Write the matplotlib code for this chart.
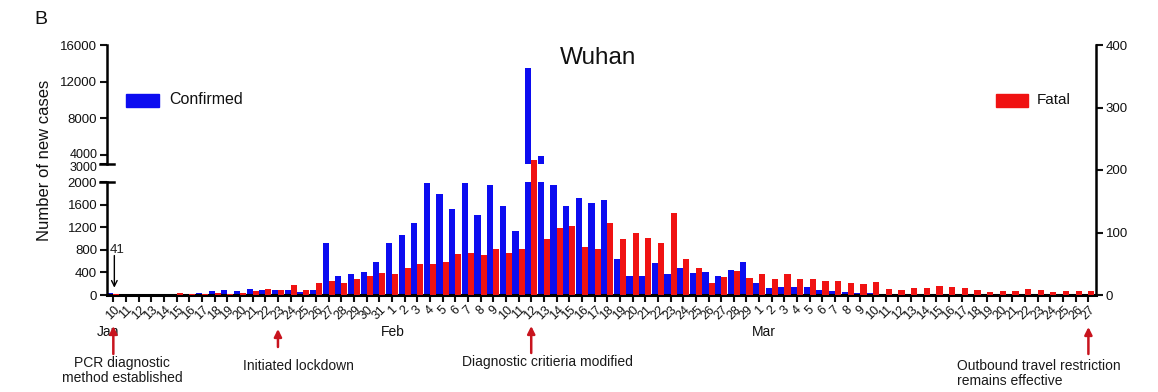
import matplotlib
matplotlib.use('Agg')
import matplotlib.pyplot as plt
import numpy as np
from matplotlib.patches import Rectangle
from matplotlib.transforms import blended_transform_factory, ScaledTranslation

plt.rcParams['font.family'] = ['Liberation Sans', 'DejaVu Sans']

# ---------------- data ----------------
day_labels = ([str(d) for d in range(10, 32)] +
              [str(d) for d in range(1, 30)] +
              [str(d) for d in range(1, 28)])
month_names = ['Jan', 'Feb', 'Mar']
month_label_pos = [-0.4, 22.1, 51.4]

confirmed = [41, 0, 0, 0, 0, 0, 20, 40, 75, 88, 78, 115, 80, 80, 80, 62, 85, 920, 330, 380, 400, 593,
             920, 1060, 1269, 1990, 1790, 1528, 1990, 1416, 1947, 1581, 1133, 13466, 3881, 1947, 1581,
             1729, 1634, 1693, 637, 336, 336, 572, 366, 484, 395, 407, 336, 437, 584,
             218, 127, 136, 150, 142, 91, 65, 62, 36, 32, 13, 8, 5, 4, 4, 1, 1, 0, 0, 0, 0, 0, 0, 0, 0, 0, 0]
fatal = [1, 0, 0, 0, 0, 3, 1, 1, 3, 1, 4, 6, 10, 8, 16, 8, 20, 22, 20, 26, 31, 35,
         33, 43, 49, 50, 53, 65, 68, 64, 74, 68, 73, 216, 89, 108, 111, 77, 73, 116, 89, 100, 91, 84,
         132, 57, 44, 20, 29, 38, 27,
         34, 26, 33, 25, 25, 23, 23, 20, 18, 21, 9, 8, 12, 12, 14, 13, 12, 8, 5, 7, 6, 10, 8, 5, 7, 6, 6]

event_texts = ['PCR diagnostic\nmethod established', 'Initiated lockdown',
               'Diagnostic critieria modified', 'Outbound travel restriction\nremains effective']
event_idx = [0, 13, 33, 77]

low_ticks = [0, 400, 800, 1200, 1600, 2000]
up_ticks = [3000, 4000, 8000, 12000, 16000]
right_ticks = [0, 100, 200, 300, 400]

BLUE = '#0c0cf0'
RED = '#f01212'
DARKRED = '#c8141e'

# ---------------- layout ----------------
W, H = 1158, 392
def fx(px): return px / W
def fy(py): return 1 - py / H

fig = plt.figure(figsize=(W / 100, H / 100), dpi=100)
L, R = 107, 1096
Y0, YLOW_TOP, YUP_BOT, YTOP = 295, 182.3, 164.3, 45

ax_low = fig.add_axes([fx(L), fy(Y0), (R - L) / W, (Y0 - YLOW_TOP) / H])
ax_up = fig.add_axes([fx(L), fy(YUP_BOT), (R - L) / W, (YUP_BOT - YTOP) / H])
ax_r = fig.add_axes([fx(L), fy(Y0), (R - L) / W, (Y0 - YTOP) / H])

x = np.arange(len(day_labels))
bw = 0.48
xlim = (-0.5, 77.6)

ax_low.bar(x - 0.24, confirmed, bw, color=BLUE, zorder=2)
ax_up.bar(x - 0.24, confirmed, bw, color=BLUE, zorder=2)
ax_r.bar(x + 0.24, fatal, bw, color=RED, zorder=3)

lw = 1.8
tick_kw = dict(length=5, width=1.5, labelsize=9.5, colors='#111111', pad=2)

# lower axes
ax_low.set_xlim(*xlim)
ax_low.set_ylim(0, 2000)
ax_low.set_yticks(low_ticks)
ax_low.set_xticks(x)
ax_low.set_xticklabels(day_labels, rotation=45, ha='center', va='top', fontsize=9)
for s in ['top', 'right']:
    ax_low.spines[s].set_visible(False)
ax_low.spines['left'].set_linewidth(lw)
ax_low.spines['bottom'].set_linewidth(2.2)
ax_low.tick_params(axis='y', **tick_kw)
ax_low.tick_params(axis='x', length=5, width=1.5, colors='#111111', pad=1)
ax_low.patch.set_visible(False)

# upper axes
ax_up.set_xlim(*xlim)
ax_up.set_ylim(3000, 16000)
ax_up.set_yticks(up_ticks)
ax_up.set_xticks([])
for s in ['top', 'right', 'bottom']:
    ax_up.spines[s].set_visible(False)
ax_up.spines['left'].set_linewidth(lw)
ax_up.tick_params(axis='y', **tick_kw)
ax_up.patch.set_visible(False)
# nudge the tightly stacked 3000 / 4000 labels apart
up_labels = ax_up.get_yticklabels()
for lab, dy in zip(up_labels[:2], [-2.5, 2.0]):
    lab.set_fontsize(9)
    lab.set_transform(lab.get_transform() + ScaledTranslation(0, dy / 100, fig.dpi_scale_trans))

# break marks
ax_low.plot([-0.007, 0.007], [1, 1], transform=ax_low.transAxes, color='k', lw=lw, clip_on=False)
ax_up.plot([-0.007, 0.007], [0, 0], transform=ax_up.transAxes, color='k', lw=lw, clip_on=False)

# right axes (fatal)
ax_r.set_xlim(*xlim)
ax_r.set_ylim(0, 400)
ax_r.set_yticks(right_ticks)
ax_r.set_xticks([])
ax_r.yaxis.tick_right()
for s in ['top', 'left', 'bottom']:
    ax_r.spines[s].set_visible(False)
ax_r.spines['right'].set_linewidth(lw)
ax_r.tick_params(axis='y', **tick_kw)
ax_r.patch.set_visible(False)

# month labels
bt = blended_transform_factory(ax_low.transData, fig.transFigure)
for name, pos in zip(month_names, month_label_pos):
    ax_low.text(pos, fy(332), name, transform=bt, ha='center', va='center', fontsize=10, color='#111111')

# event arrows and texts
arrow_spans = [(326, 354), (329, 347), (326, 353), (327, 354)]
text_pos = [(0.7, 356, 'center'), (14.6, 359, 'center'), (34.3, 355, 'center'), (66.6, 359, 'left')]
for idx, (ytip, ytail), txt, (tx, ty, ha) in zip(event_idx, arrow_spans, event_texts, text_pos):
    ax_low.annotate('', xy=(idx, fy(ytip)), xycoords=bt, xytext=(idx, fy(ytail)), textcoords=bt,
                    arrowprops=dict(arrowstyle='-|>', color=DARKRED, lw=1.8, mutation_scale=11,
                                    shrinkA=0, shrinkB=0), annotation_clip=False)
    ax_low.text(tx, fy(ty), txt, transform=bt, ha=ha, va='top', fontsize=10,
                color='#1a1a1a', linespacing=1.05)

# "41" annotation
ax_low.text(0.3, 800, str(confirmed[0]), ha='center', va='center', fontsize=9.5, color='#222222')
ax_low.annotate('', xy=(0.08, 130), xytext=(0.08, 700),
                arrowprops=dict(arrowstyle='->', color='k', lw=1.0, shrinkA=0, shrinkB=0))

# titles / labels
fig.text(fx(598), fy(58), 'Wuhan', ha='center', va='center', fontsize=17.5, color='#111111')
fig.text(fx(41), fy(19), 'B', ha='center', va='center', fontsize=14, color='#111111')
fig.text(fx(45), fy(160), 'Number of new cases', rotation=90, ha='center', va='center',
         fontsize=12, color='#111111')

# legend
fig.patches.append(Rectangle((fx(126), fy(107)), 33 / W, 13 / H, transform=fig.transFigure,
                             color=BLUE))
fig.text(fx(169), fy(100), 'Confirmed', ha='left', va='center', fontsize=11.5, color='#111111')
fig.patches.append(Rectangle((fx(996), fy(107)), 32 / W, 13 / H, transform=fig.transFigure,
                             color=RED))
fig.text(fx(1037), fy(100), 'Fatal', ha='left', va='center', fontsize=11, color='#111111')

fig.savefig('out.png', dpi=100)
